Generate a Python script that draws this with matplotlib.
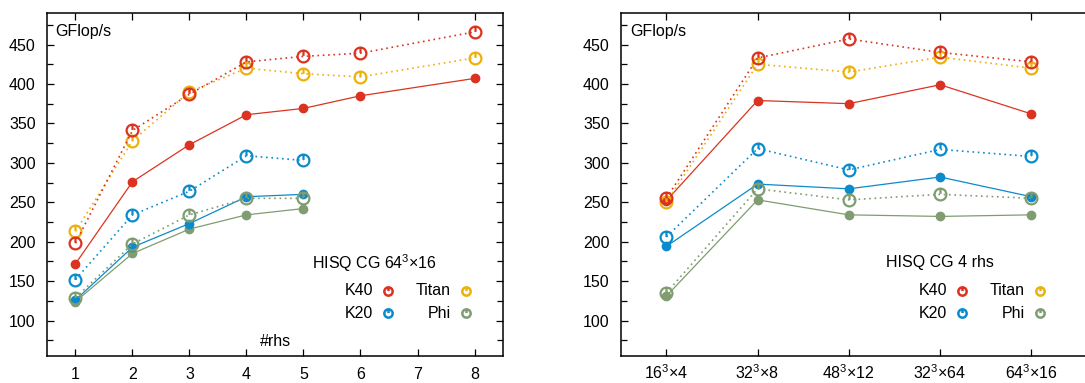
import matplotlib
matplotlib.use("Agg")
import matplotlib.pyplot as plt
import numpy as np
from matplotlib.path import Path
from matplotlib.ticker import MultipleLocator

plt.rcParams['font.family'] = ['Liberation Sans', 'DejaVu Sans']
plt.rcParams['mathtext.fontset'] = 'custom'
plt.rcParams['mathtext.rm'] = 'Liberation Sans'
plt.rcParams['mathtext.default'] = 'regular'
plt.rcParams['font.size'] = 11.5

# left panel: performance vs number of right-hand sides
rhs = [1, 2, 3, 4, 5, 6, 8]
rhs_short = [1, 2, 3, 4, 5]
k40_solid_l = [172, 276, 323, 361, 369, 385, 407]
k40_dot_l = [198, 341, 387, 428, 435, 439, 466]
titan_dot_l = [213, 328, 390, 420, 413, 409, 433]
k20_dot_l = [152, 234, 264, 309, 303]
k20_solid_l = [126, 193, 223, 257, 260]
phi_dot_l = [129, 197, 234, 255, 255]
phi_solid_l = [124, 185, 216, 234, 242]

# right panel: performance vs lattice size (4 rhs)
lattices = ['16$^3$×4', '32$^3$×8', '48$^3$×12', '32$^3$×64', '64$^3$×16']
k40_solid_r = [252, 379, 375, 399, 362]
k40_dot_r = [255, 433, 457, 440, 428]
titan_dot_r = [250, 425, 415, 434, 420]
k20_dot_r = [206, 318, 291, 317, 308]
k20_solid_r = [194, 273, 267, 282, 257]
phi_dot_r = [135, 267, 253, 260, 255]
phi_solid_r = [131, 253, 234, 232, 234]

RED = '#dc3320'
BLUE = '#0b8bcc'
YELLOW = '#ebb10c'
GREEN = '#7f9d70'

# open circle with a short notch from the top to the centre
ring = Path.unit_circle()
notch = Path([(0, 0.1), (0, 1.0)], [Path.MOVETO, Path.LINETO])
open_mk = Path.make_compound_path(ring, notch)

dots = (0, (1.0, 2.2))


def solid(ax, x, y, c):
    ax.plot(x, y, color=c, lw=0.9, marker='o', ms=6, mec=c, mfc=c, zorder=3)


def dotted(ax, x, y, c):
    ax.plot(x, y, color=c, lw=1.2, ls=dots, marker=open_mk, ms=8.5,
            mfc='none', mec=c, mew=1.6, zorder=4)


def legend(ax, title, tx, xs, ys):
    ax.text(tx, ys[0] + 0.082, title, transform=ax.transAxes, ha='left', va='center')
    entries = [('K40', RED, 0, 0), ('Titan', YELLOW, 1, 0),
               ('K20', BLUE, 0, 1), ('Phi', GREEN, 1, 1)]
    for lab, c, col, row in entries:
        xt, xm = xs[col]
        ax.text(xt, ys[row], lab, transform=ax.transAxes, ha='right', va='center')
        ax.plot([xm], [ys[row]], transform=ax.transAxes, marker=open_mk, ms=6,
                mfc='none', mec=c, mew=1.8, ls='none', clip_on=False)


def style(ax):
    ax.set_ylim(55, 490)
    ax.yaxis.set_major_locator(MultipleLocator(50))
    ax.yaxis.set_minor_locator(MultipleLocator(25))
    ax.set_yticks([100, 150, 200, 250, 300, 350, 400, 450])
    ax.tick_params(which='both', direction='in', top=True, right=True, width=0.9)
    ax.tick_params(which='major', length=5, pad=8)
    ax.tick_params(which='minor', length=4)
    ax.tick_params(axis='x', which='minor', top=False, bottom=False)
    for s in ax.spines.values():
        s.set_linewidth(1.1)
    ax.text(0.019, 0.945, 'GFlop/s', transform=ax.transAxes, ha='left', va='center')


fig = plt.figure(figsize=(10.85, 3.83), dpi=100)
ax1 = fig.add_axes([0.0433, 0.0705, 0.4203, 0.8956])
ax2 = fig.add_axes([0.5721, 0.0705, 0.4415, 0.8956])

solid(ax1, rhs_short, phi_solid_l, GREEN)
dotted(ax1, rhs_short, phi_dot_l, GREEN)
solid(ax1, rhs_short, k20_solid_l, BLUE)
dotted(ax1, rhs_short, k20_dot_l, BLUE)
dotted(ax1, rhs, titan_dot_l, YELLOW)
solid(ax1, rhs, k40_solid_l, RED)
dotted(ax1, rhs, k40_dot_l, RED)
ax1.set_xlim(0.5, 8.5)
ax1.set_xticks(range(1, 9))
style(ax1)
ax1.text(0.5, 0.041, '#rhs', transform=ax1.transAxes, ha='center', va='center')
legend(ax1, 'HISQ CG 64$^3$×16', 0.581,
       [(0.715, 0.748), (0.886, 0.919)], [0.190, 0.125])

xr = np.arange(len(lattices))
solid(ax2, xr, phi_solid_r, GREEN)
dotted(ax2, xr, phi_dot_r, GREEN)
solid(ax2, xr, k20_solid_r, BLUE)
dotted(ax2, xr, k20_dot_r, BLUE)
dotted(ax2, xr, titan_dot_r, YELLOW)
solid(ax2, xr, k40_solid_r, RED)
dotted(ax2, xr, k40_dot_r, RED)
ax2.set_xlim(-0.5, 4.75)
ax2.set_xticks(xr)
ax2.set_xticklabels(lattices)
style(ax2)
ax2.tick_params(axis='x', which='major', pad=5)
legend(ax2, 'HISQ CG 4 rhs', 0.553,
       [(0.681, 0.712), (0.844, 0.876)], [0.190, 0.125])

fig.savefig('out.png', dpi=100)
